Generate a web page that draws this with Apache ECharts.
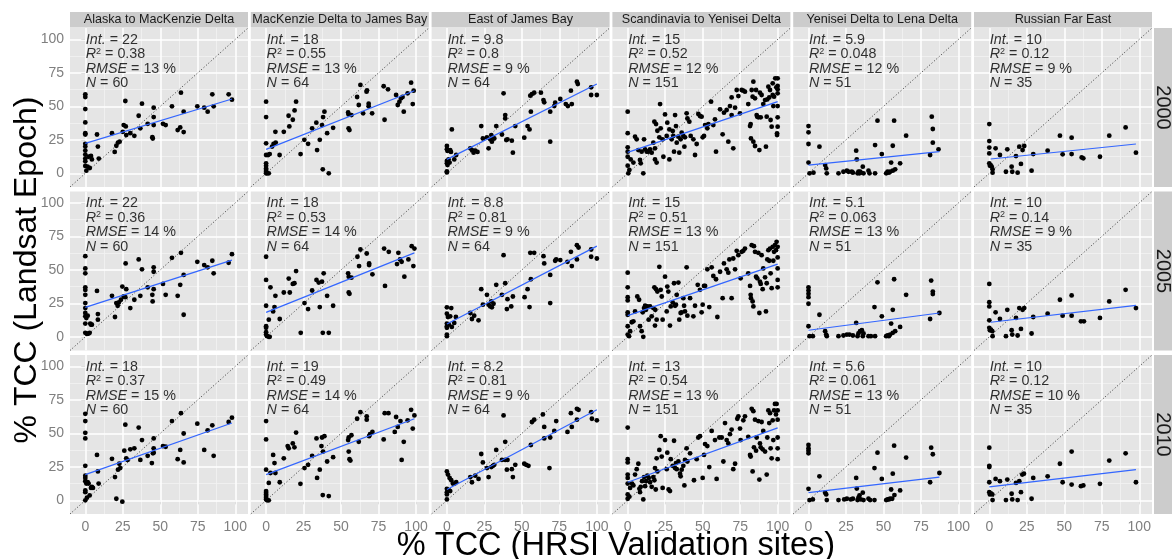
<!DOCTYPE html>
<html>
<head>
<meta charset="utf-8">
<script src="https://cdn.jsdelivr.net/npm/echarts@6.0.0/dist/echarts.min.js"></script>
<style>
  html, body { margin: 0; padding: 0; background: #fff; }
  #chart { width: 1172px; height: 559px; }
</style>
</head>
<body>
<div id="chart"></div>
<script>
// facet labels and ticks
const regions = ['Alaska to MacKenzie Delta', 'MacKenzie Delta to James Bay', 'East of James Bay',
  'Scandinavia to Yenisei Delta', 'Yenisei Delta to Lena Delta', 'Russian Far East'];
const years = ['2000', '2005', '2010'];
const ticks = [0, 25, 50, 75, 100];
const minorTicks = [12.5, 37.5, 62.5, 87.5];

// fit statistics, rows = years, cols = regions
const intercepts = [[22, 18, 9.8, 15, 5.9, 10], [22, 18, 8.8, 15, 5.1, 10], [18, 19, 8.2, 13, 5.6, 10]];
const rSquared = [['0.38', '0.55', '0.8', '0.52', '0.048', '0.12'], ['0.36', '0.53', '0.81', '0.51', '0.063', '0.14'], ['0.37', '0.49', '0.81', '0.54', '0.061', '0.12']];
const rmse = [[13, 13, 9, 12, 12, 9], [14, 14, 9, 13, 13, 9], [15, 14, 9, 13, 13, 10]];
const nSites = [[60, 64, 64, 151, 51, 35], [60, 64, 64, 151, 51, 35], [60, 64, 64, 151, 51, 35]];

// regression line ends [x1, y1, x2, y2]
const fit2000 = [[0, 22.4, 97.8, 55.5], [0, 17.9, 98.9, 61.7], [0, 10.4, 100, 66.7], [0, 15.7, 100, 53.5], [0, 6.2, 87.3, 16.2], [0.9, 10.7, 97.8, 21.9]];
const fit2005 = [[0, 22, 97.8, 57.3], [0, 18.3, 98.9, 62.7], [0, 9.6, 100, 67.7], [0, 15.8, 100, 54.3], [0, 4.9, 87.3, 17.8], [0.9, 10.9, 97.8, 23.5]];
const fit2010 = [[0, 19.2, 97.8, 57.7], [0, 19.2, 98.9, 60.9], [0, 8.1, 100, 67.6], [0, 13.5, 100, 54.1], [0, 5.7, 87.3, 17.4], [0, 10.1, 97.8, 22.9]];

// [HRSI, Landsat] pairs
const alaska2000 = [[0,59],[0,57],[0,48],[0,38],[0,30],[0,29],[0,22],[0,20],[0,17],[0,14],[0,11],[0,9],[0,5.5],
  [0.7,2],[1.5,5],[2.2,12.4],[3,4],[3.8,13],[4.4,10.4],[7.8,29],[8.4,20],[9,11],[17.8,30],[19.6,16],[20.7,20.6],[21.8,23],
  [22.9,23.6],[25,31],[25.6,36],[26.7,54],[27,35],[27.3,28.6],[30,30],[32.7,28],[35.6,43],[36.7,33.6],[37.8,52],[41.6,37],
  [44.7,27],[45,26],[45.6,49],[45.6,42],[45.6,36],[51.8,37],[53.6,36],[57.8,50],[61.6,32.3],[63.3,34.3],[63.8,60.2],[65.6,46],
  [65.6,30.8],[74.7,50],[79.3,49],[81.6,46],[84.7,59],[85.6,50],[95.6,59],[97.8,55]];
const mackenzie2000 = [[0,53.5],[0,42],[0,22.4],[0,13.7],[0,7.5],[0,5.7],[0,3.7],[0,2.5],[0,1.2],[0,0],[0.7,0],[1.8,0],
  [1.3,13.7],[2.4,14.4],[4,20],[5,22],[6.2,31],[6.4,23],[9,13.7],[11.8,31],[15,43],[15.5,35],[17.8,40],[19,47],[20,53.5],
  [23,14.4],[25.5,25],[28,22],[30.7,33.6],[33.5,37.8],[34,17.4],[35.8,25],[37.3,36],[37.8,3],[38,42],[38.9,46],[40.7,30],
  [41.8,0],[44.7,34],[54.7,45.5],[55,44],[55,33.6],[55.6,32.3],[56.9,43.5],[60.7,57],[61.8,51],[62.9,66],[64.7,44.8],[67,61],
  [67.3,62],[68.4,52],[68.4,50],[70.7,44.8],[78.4,65],[79,40],[81.3,62.7],[86.7,58.5],[87.8,51],[88.9,53.5],[90,56],[91,57],
  [91.8,46],[94.4,59.7],[96.7,67.7],[97.8,51.7],[98.4,61.7]];
const eastJB2000 = [[0,20.4],[0,18],[0.4,16.7],[0,9.2],[0,7.5],[0.4,6.2],[0,0.7],[0,1.5],[1.1,10.4],[1.8,8],[2.2,17.4],
  [2.7,16],[3.3,32.8],[4.9,10.4],[6.2,13.7],[15.6,18.7],[16.7,17.4],[17.8,15.4],[18.9,17],[20.4,16],[22.9,35.3],[24,26],
  [26.7,26.9],[27.8,18.7],[28.9,25.4],[29.6,28.6],[30,23.6],[30.7,27],[31.6,26],[32.9,35.3],[36.7,29],[37.8,59.7],[38.9,41],
  [38.9,43.5],[39.6,24.9],[40.4,25.4],[43.3,24.4],[44,15.4],[45.6,35.3],[51.6,26.6],[53.8,35.3],[55.1,32.8],[55.6,58],[56,46],
  [56.7,59.2],[58.2,60.2],[62.7,60.2],[64.4,54.7],[64.9,53],[68.9,46],[68.9,23.6],[71.6,50.2],[72.2,52.7],[75.6,55.5],
  [79.3,51.7],[80.7,50.2],[82.7,61.7],[83.3,51.7],[86.7,68.4],[87.3,66.7],[96.2,64.2],[96.2,58.5],[100,58.5]];
const scand2000 = [[0,46],[0,30],[0,19.4],[0,16.2],[0,12.4],[0,5.7],[0.4,0],[1.1,2.5],[2,10.4],[3.8,8],[4.9,27.4],[6,25.4],
  [7.1,17.4],[8.2,10],[8.7,7.5],[9.3,16.2],[10.4,0],[10.9,25.4],[11.6,17.9],[12.7,16.2],[13.8,16.2],[14.9,17.9],[16,15.4],
  [17.1,22.9],[17.8,38.6],[18.2,18.7],[18.2,10.4],[18.9,36.8],[19.3,8],[19.8,31.8],[21.1,26.9],[21.6,51.7],[22,33.6],[23.3,25.4],
  [23.8,12.4],[24.9,44],[26,27.9],[26.4,37.8],[27.8,32.8],[27.8,10.4],[29.3,25.4],[30,31.6],[30.4,27.9],[30.9,16.2],[31.6,43.5],
  [32.2,35.3],[32.7,22.9],[33.8,27.4],[34.4,15.4],[35.3,25.4],[36,30.3],[37.1,27.9],[37.8,19.9],[38.2,26.9],[39.3,44.8],
  [39.8,41],[41.1,38.6],[42,27.9],[43.8,25.4],[44.9,13.7],[46,21.9],[47.1,44.3],[48.2,42.8],[49.3,42.3],[50,26.9],[50.9,27.9],
  [51.6,36],[53.1,33.6],[53.8,36.8],[55.6,53.5],[57.1,36],[58.2,40.3],[58.9,16.2],[61.6,47.8],[63.3,29.1],[64.2,45.3],[66,47.3],
  [67.1,23.6],[68.2,50.2],[69.3,56.7],[69.3,43.5],[70.4,18.7],[71.6,49],[72.7,62.2],[73.8,57.7],[74.9,44.8],[76,62.2],
  [77.1,61.7],[78.2,61],[80.4,51.7],[81.6,35.3],[82,36.8],[82.2,26.1],[82.7,62.2],[83.3,57.2],[83.8,68.4],[83.8,23.6],[84.9,56],
  [84.9,20.4],[85.6,62.2],[86,43.5],[86.4,42.3],[87.1,41.8],[87.8,17.4],[88.2,60.2],[88.7,41.8],[89.3,58.5],[90.4,51.7],
  [91.6,54.7],[92.2,19.9],[92.7,42.3],[93.1,55.2],[93.8,64.7],[94.4,56.7],[94.9,62.2],[95.3,39.8],[96,34.8],[96.7,67.2],
  [96.7,58.5],[97.1,50.2],[97.6,57.2],[98.4,70.9],[99.1,64.2],[99.6,29.9],[99.6,28.6],[100,50.2],[100,41.8],[100,34.8],
  [100,65.2],[100,62.7],[100,70.9],[100,59.7]];
const yenisei2000 = [[0,35.3],[0,30.6],[0,21.9],[0,8],[0.7,0],[3.3,0.5],[7.3,19.9],[11.1,6.2],[11.8,3.7],[12.2,0],[20,0],
  [23.3,1.2],[25.6,2],[26.7,1.2],[28.9,1.2],[29.6,0.5],[31.8,16.9],[32.2,10.4],[32.7,0],[33.3,1.2],[34,0],[34.4,1.2],[34.9,0.5],
  [36.2,5],[36.7,0],[40,2],[40.7,0],[44.4,0],[44.4,21.1],[46,39.3],[48.9,14.4],[51.8,0],[52.7,1.2],[53.6,0.5],[54.4,1.2],
  [55.1,8],[56.2,2],[56.2,20.6],[57.1,39.3],[57.8,3],[61.1,7.5],[65.1,28.1],[81.1,13.7],[82.2,42.3],[82.9,33.1],[82.9,22.9],
  [86.7,17.9]];
const rfe2000 = [[0,36.8],[0,24.1],[0,19.2],[0,14.9],[0,7.5],[0.4,5.7],[0.9,6.2],[1.6,5],[2.2,0.5],[2.2,3],[4.2,18.7],
  [7.1,13.7],[11.1,1.2],[12,17.9],[14.9,5],[15.3,1.2],[17.8,12.9],[18.9,0.5],[20,19.9],[21.1,7],[22.2,17.4],[23.3,20.4],
  [28.2,2],[29.3,14.4],[38.9,16.9],[47.1,28.1],[48.9,14.2],[54.9,26.6],[54.9,14.4],[61.6,11.9],[62.7,11.2],[73.8,12.4],
  [80,28.1],[90.9,34.3],[97.8,15.4]];

const alaska2005 = [[0,60.2],[0,51.1],[0,47.4],[0,37],[0,35],[0,31.4],[0,25.2],[0,21.5],[0,17.8],[0,15.3],[0,9.9],[0,3],
  [0.7,14],[1.1,2.2],[1.6,15.8],[2.2,2.5],[2.9,3],[3.3,9.9],[3.8,9.1],[4.4,9.1],[7.8,34.3],[8.4,17],[8.4,12.8],[17.8,30.6],
  [19.8,14.8],[20.7,25.2],[21.6,23.2],[22.4,25.7],[23.8,27.7],[24.7,37.5],[25.6,30.1],[26.7,29.6],[26.9,54.8],[27.3,35.6],
  [30,21.5],[32.7,27.7],[35.6,57.8],[36.7,30.6],[37.8,50.4],[41.6,37],[44.7,31.4],[44.9,26.4],[45.6,51.9],[45.6,48.6],
  [45.6,35.6],[51.8,39.5],[53.6,31.4],[57.8,59],[61.6,30.6],[63.3,38.8],[63.8,62.7],[65.6,16.5],[65.6,46.2],[74.7,56],
  [79.3,53.6],[81.6,51.9],[84.7,56.8],[85.6,47.4],[95.6,55.3],[97.8,61.7]];
const mackenzie2005 = [[0,59.8],[0,42.5],[0,23.2],[0,7.9],[0,6.7],[0,3.5],[0,1.7],[0.7,0.5],[1.8,0],[2.4,0],[1.8,12.8],
  [2.9,37],[4.7,19],[5.6,22.2],[6.2,30.6],[9.1,13.3],[11.8,33.1],[15.1,43.5],[15.8,33.1],[17.8,39.5],[18.9,40],[20,49.1],
  [23.1,3],[25.6,25.2],[28,20.7],[30.7,34.6],[33.6,42.5],[35.1,40.5],[35.8,22.2],[37.3,41.2],[37.8,3],[38.4,47.4],[40.7,30.6],
  [41.8,3],[44.7,23.2],[54.7,47.4],[55.1,44.9],[55.1,33.1],[55.6,32.1],[56.9,44.2],[60.9,59.8],[62,52.8],[62.9,65.2],
  [67.1,62.2],[68.7,54.8],[68.7,53.6],[70.9,46.7],[78.7,65.9],[79.3,38],[81.8,63.5],[87.3,54.3],[88.2,62.7],[89.3,57.8],
  [90.4,56],[92.2,44.9],[94.9,57.8],[97.1,67.7],[98.2,52.8],[98.9,65.9]];
const eastJB2005 = [[0,22],[0,17.3],[0,9.9],[0,7.9],[0,6.7],[0,1.7],[0,0.5],[0.7,14.8],[1.3,9.1],[2.2,15.3],[2.9,21.5],
  [3.3,7.4],[4.9,10.4],[6,14.8],[15.6,17.8],[16.7,13.3],[18.2,15.8],[21.1,12.3],[22.9,35.6],[24,24],[26.7,31.4],[27.8,24],
  [28.9,22.7],[29.6,26.4],[30,22],[31.1,24.7],[32.9,38.8],[36.7,31.4],[37.8,61],[38.9,40],[40,20.7],[40.4,28.1],[42.9,22.7],
  [44,30.1],[51.8,29.6],[53.8,35.6],[55.1,22.2],[55.6,62.7],[56,43],[58.2,62.7],[64.4,60.2],[64.9,54.8],[68.9,46.2],
  [68.9,25.2],[72.2,56.8],[72.9,57.8],[75.6,57.3],[80.4,56],[82.7,63.5],[83.3,52.8],[86.7,68.4],[87.8,66.7],[86.7,57.8],
  [96.2,65.2],[96.2,59.8],[100,58.5]];
const scand2005 = [[0,47.9],[0,37],[0,29.6],[0,27.2],[0,18.3],[0,16.5],[0,7.9],[0,1.7],[0.9,0.5],[1.6,4.2],[2.7,10.9],
  [3.8,11.6],[4.9,19],[6.4,30.1],[7.6,27.7],[8.2,7.9],[9.3,4.2],[10,18.3],[10.4,0],[10.9,21.5],[11.6,23.2],[12.2,20.2],
  [13.1,22.7],[14,12.8],[14.9,22.7],[16,15.3],[17.1,21.5],[17.8,37],[18.2,8.4],[18.4,20.2],[18.9,35.6],[19.3,12.8],[19.8,33.8],
  [21.1,52.3],[22,35.1],[22.7,30.1],[23.3,12.8],[24.9,44.9],[26,19],[26.4,37.5],[27.1,33.8],[28.2,8.4],[28.7,22.7],[30,25.7],
  [30.9,40],[31.6,23.2],[32.2,24],[32.7,31.4],[33.8,40.5],[34.4,12.8],[35.3,17.8],[36,18.3],[37.1,28.9],[37.6,23.2],[38.2,19],
  [39.3,51.9],[39.8,15.8],[41.6,28.9],[43.8,15.3],[44.9,23.2],[46.7,38.8],[48.2,35.1],[49.3,18.3],[50,24],[50.9,38],[51.6,38],
  [53.1,50.4],[54.4,22.2],[56,51.9],[57.1,45.4],[58.9,43],[59.8,14.8],[61.6,48.6],[63.3,28.9],[64.2,54.8],[66,50.4],[67.1,47.9],
  [67.8,57.8],[69.3,28.9],[70.4,58.5],[71.6,50.4],[72.7,64.2],[73.8,61],[75.3,43.7],[76,63.5],[77.1,64.2],[78.2,65.9],
  [80.4,47.4],[81.6,38],[82,31.4],[82.2,28.9],[82.7,68.4],[83.3,26.4],[83.8,22.7],[84.2,67.7],[84.9,63.5],[85.6,44.9],
  [86.4,43.7],[87.1,62.7],[87.8,17.8],[88.2,41.2],[88.7,39.5],[89.3,61],[90,35.6],[90.4,51.1],[91.6,44.4],[92.2,19],[92.7,40],
  [93.1,57.8],[93.8,64.7],[94.4,56.8],[94.9,65.9],[95.3,47.4],[96,36.3],[96.7,67.2],[97.1,56.8],[97.6,63.5],[98.2,68.4],
  [98.9,64.7],[99.3,70.9],[100,67.2],[100,42.5],[100,37],[100,51.1],[100,59.3]];
const yenisei2005 = [[0,37],[0,34.6],[0,32.1],[0,29.6],[0,24.7],[0,7.9],[0.7,0.5],[2.9,0.5],[7.3,16.5],[11.1,4.2],[11.8,1.7],
  [12.2,0.5],[20,0.5],[23.3,1],[25.6,1.7],[27.3,1.7],[29.6,1],[31.8,10.4],[32.7,0.5],[33.3,2.5],[34.4,4.2],[35.6,4.9],[36.2,0.5],
  [36.7,2.5],[40,0.5],[41.6,0.5],[44.4,0.5],[44,22.2],[46,40.7],[48.9,15.3],[51.8,0.5],[52.7,1],[53.6,0.5],[54.4,1.7],[55.1,9.9],
  [56.2,3],[56.2,20.2],[57.1,43],[57.8,4.2],[61.1,7.4],[65.1,31.4],[81.1,13.3],[81.8,42],[82.9,33.8],[82.9,31.9],[87.3,17.8]];
const rfe2005 = [[0,39.5],[0,25.9],[0,22.7],[0,12.3],[0,6.7],[0.4,4.9],[1.1,5.4],[2,4.2],[2.2,0.5],[4.2,18.3],[7.1,13.3],
  [11.1,0.5],[12,20.2],[14.9,4.9],[15.3,1.7],[17.8,14.1],[18.9,1],[20,21.5],[21.1,5.9],[22.2,20.2],[23.3,21.5],[28.2,2.5],
  [29.3,14.8],[38.9,17.3],[47.1,27.7],[48.9,15.8],[54.9,30.9],[54.9,15.8],[61.1,11.6],[63.1,11.6],[73.8,14.1],[80,26.4],
  [90.9,35.1],[97.8,21.5]];

const alaska2010 = [[0,64.6],[0,59.2],[0,50.4],[0,46.2],[0,25.8],[0,18.4],[0,16.7],[0,14.3],[0,7.4],[0,6.1],[0,0],
  [0.7,12.5],[1.1,2],[1.6,13.5],[2.2,12.5],[2.9,3.7],[3.8,9.3],[4.4,10.1],[5.1,9.3],[7.8,33.9],[8.4,21.6],[8.9,12.5],[17.8,31],
  [19.8,17.4],[20.7,1.2],[21.8,22.9],[22.7,27.3],[23.3,24.1],[24.7,-1],[26,37.1],[26.7,56.5],[27.3,31.4],[28.2,30.2],[30,38.1],
  [32.7,38.8],[35.6,54.3],[36.7,30.2],[37.8,45],[41.6,33.2],[44.4,27.8],[45.1,35.1],[45.6,46.2],[45.6,35.6],[45.6,38.8],
  [51.8,40.5],[53.6,40],[57.8,59.2],[61.6,30.7],[63.3,37.6],[63.8,65.1],[65.6,28.3],[65.6,49.9],[74.7,57.2],[79.3,37.6],
  [81.6,52.3],[84.7,56],[85.6,33.2],[95.6,58.5],[97.8,61.7]];
const mackenzie2010 = [[0,59.2],[0,45.5],[0,22.9],[0,6.9],[0,5.7],[0,4.4],[0,3.2],[0,2],[0,0.7],[0.7,0],[1.8,0],[1.8,13],
  [2.9,20.4],[4.7,33.9],[5.6,27.8],[6.2,20.4],[9.1,13.5],[11.8,31.4],[14.4,40.5],[15.1,38.8],[17.8,42.5],[18.9,39.6],[20,50.6],
  [22.9,12.3],[25.6,24.1],[28,26.5],[30.7,33.2],[33.6,46.2],[34,16.7],[35.8,22.9],[36.9,40.5],[37.3,46.9],[37.8,3.9],[38,36.4],
  [38.9,47.9],[40.7,29],[41.8,3.2],[44.7,32.2],[54.7,45],[55.1,46.9],[55.1,36.4],[55.6,30.7],[56.2,29.7],[56.9,48.6],
  [60.7,60.9],[61.8,43.7],[62.9,65.8],[67.1,62.7],[67.1,60.2],[68.7,47.9],[69.3,49.4],[70.9,51.1],[78.4,45.5],[79.1,65.1],
  [81.6,65.1],[86.7,62.2],[85.8,51.1],[87.8,54.8],[89.6,59.2],[90.4,30.2],[91.8,43.7],[94.4,59.7],[96.7,67.6],[97.8,53.6],
  [98.9,63.4]];
const eastJB2010 = [[0,21.6],[0,8.6],[0,6.1],[0,4.4],[0,0.7],[0.7,19.2],[1.3,7.6],[1.8,16.7],[2.2,6.9],[2.9,15],[4,12.5],
  [5.1,12.5],[6.2,13.5],[15.6,17.4],[16.7,13.5],[18.9,18.4],[21.1,16],[22.9,34.6],[24,28.3],[26.7,24.1],[27.8,17.4],[29.6,24.8],
  [30.7,25.8],[31.6,26.5],[32.9,37.6],[36.7,30.2],[37.8,63.4],[38.9,43.7],[38.9,30.2],[40,22.9],[40.4,30.2],[43.3,23.3],
  [44,17.4],[45.6,26.5],[51.6,27.3],[52.9,26.5],[54.4,25.8],[56,41.3],[56.7,58.5],[58.2,60.2],[64,64.1],[64.9,54.8],[64.9,46.2],
  [68.4,24.1],[68.9,46.9],[71.6,51.8],[72.9,59.2],[80.4,51.1],[82.7,65.1],[83.3,54.8],[86.7,68.3],[87.8,67.6],[86.7,60.2],
  [96.2,65.8],[96.7,60.9],[100,59.7]];
const scand2010 = [[0,54.3],[0,30.7],[0,28.3],[0,19.2],[0,16.7],[0,12.5],[0,4.4],[0,1.2],[1.1,2.7],[1.6,9.3],[2.9,12.5],
  [3.8,11.1],[4.9,19.2],[6,23.3],[7.1,27.3],[7.8,8.6],[8.2,6.1],[8.7,10.1],[9.6,14.3],[10.4,0.7],[10.9,17.4],[11.6,10.6],
  [12.2,14.3],[13.1,18.4],[14,16.7],[14.9,13.5],[16,10.1],[17.1,17.4],[17.8,15],[18.2,24.1],[18.7,8.1],[19.3,31.4],[19.8,21.6],
  [21.1,37.6],[22,47.9],[22.7,32.7],[23.3,9.3],[24.9,45],[26,23.3],[26.4,35.6],[27.3,8.1],[28.2,6.9],[28.7,30.7],[30,25.8],
  [30.9,44.5],[31.6,24.1],[32.2,27.8],[32.7,23.3],[33.8,29],[34.9,19.9],[35.3,17.9],[36,22.9],[37.1,25.8],[37.8,11.1],
  [38.2,30.2],[39.3,38.8],[39.8,29],[41.6,35.1],[44.2,15],[46,30.7],[47.1,46.9],[48.2,47.9],[50,16.7],[50.9,33.9],[51.6,42],
  [53.1,40.5],[54.4,24.8],[56,51.8],[58.2,45],[59.3,16],[61.1,46.9],[62.7,46.9],[63.8,29],[64.9,57.7],[66,45],[67.1,42.5],
  [68.2,49.4],[69.3,52.8],[70.4,23.3],[71.6,27.3],[73.1,60.9],[73.8,62.7],[74.9,53.6],[75.3,45],[77.1,59.7],[78.2,62.7],
  [80.4,47.4],[81.6,33.9],[82,32.7],[82.7,68.3],[83.3,21.6],[83.8,66.6],[84.2,39.6],[84.9,60.2],[85.6,37.1],[86,46.9],
  [87.1,59.2],[87.8,15.5],[88.2,42.5],[88.7,39.6],[89.3,58.5],[90,38.1],[90.4,51.8],[91.6,36.4],[92.7,19.2],[93.1,46.9],
  [93.8,67.1],[94.4,57.7],[94.9,65.1],[95.3,38.8],[96,31.4],[96.7,59.7],[97.1,45],[97.6,67.1],[98.2,72],[98.9,64.1],[99.3,72],
  [100,67.1],[100,46.9],[100,38.8],[100,30.7],[100,60.2]];
const yenisei2010 = [[0,41.3],[0,38.8],[0,37.1],[0,35.1],[0,8.6],[0.7,0.2],[2.9,0.7],[7.3,17.9],[11.1,5.7],[11.8,4.4],
  [12.2,0.2],[20,0.2],[23.8,0.7],[25.6,1.2],[28.2,0.7],[29.6,1.2],[31.8,16.7],[32.2,8.8],[32.7,0.2],[33.3,2],[34,3.7],[34.9,0.7],
  [36.2,5.7],[36.7,0.2],[40,1.2],[41.1,0.2],[44,24.1],[44,0.2],[46,35.6],[48.9,16],[51.8,0.2],[52.7,0.7],[53.6,0.7],[54.4,1.2],
  [55.1,8.1],[55.8,1.2],[56.2,19.9],[57.1,40.8],[57.3,3.9],[61.1,7.4],[65.1,31.9],[81.1,13.5],[81.8,39.3],[82.9,34.4],
  [87.3,20.4]];
const rfe2010 = [[0,39.3],[0,25.8],[0,24.8],[0,13.5],[0,6.1],[0.4,4.4],[1.1,5.2],[2,4.4],[2.2,0.2],[4.2,16],[7.1,14.3],
  [11.1,0.2],[12,15.5],[14.9,4.9],[15.3,0.7],[17.8,13],[18.9,0.2],[20,14.3],[21.1,6.1],[22,19.2],[23.1,19.9],[28.2,1.2],
  [29.3,16.7],[38.9,17.9],[47.1,27.3],[48.9,13.5],[54.9,36.4],[54.9,11.8],[61.1,10.6],[62.7,11.1],[73.8,12.3],[80,29.7],
  [90.9,35.1],[97.8,13.5]];

const points = [
  [alaska2000, mackenzie2000, eastJB2000, scand2000, yenisei2000, rfe2000],
  [alaska2005, mackenzie2005, eastJB2005, scand2005, yenisei2005, rfe2005],
  [alaska2010, mackenzie2010, eastJB2010, scand2010, yenisei2010, rfe2010]
];
const fits = [fit2000, fit2005, fit2010];

// layout
const AX_MIN = -10.2, AX_MAX = 108.5;
const colLeft = [70, 250.8, 431.6, 612.4, 793.2, 974];
const rowTop = [28, 191.5, 355];
const PW = 178, PH = 159;
const FONT = '"Liberation Sans", Arial, Helvetica, sans-serif';

const chart = echarts.init(document.getElementById('chart'));

const gridLines = [];
minorTicks.forEach(v => {
  gridLines.push({ coords: [[v, AX_MIN], [v, AX_MAX]], lineStyle: { color: '#F2F2F2', width: 0.8, opacity: 1 } });
  gridLines.push({ coords: [[AX_MIN, v], [AX_MAX, v]], lineStyle: { color: '#F2F2F2', width: 0.8, opacity: 1 } });
});
ticks.forEach(v => {
  gridLines.push({ coords: [[v, AX_MIN], [v, AX_MAX]], lineStyle: { color: '#FFFFFF', width: 1.5, opacity: 1 } });
  gridLines.push({ coords: [[AX_MIN, v], [AX_MAX, v]], lineStyle: { color: '#FFFFFF', width: 1.5, opacity: 1 } });
});

const grid = [], xAxis = [], yAxis = [], series = [], graphic = [];

years.forEach((yr, r) => {
  regions.forEach((reg, c) => {
    const i = r * 6 + c;
    grid.push({
      left: colLeft[c], top: rowTop[r], width: PW, height: PH,
      show: true, backgroundColor: '#E5E5E5', borderWidth: 0,
      containLabel: false, outerBoundsMode: 'none'
    });
    xAxis.push({
      type: 'value', gridIndex: i, min: AX_MIN, max: AX_MAX,
      axisLine: { show: false }, splitLine: { show: false },
      axisTick: { show: r === 2, customValues: ticks, length: 4, lineStyle: { color: '#7F7F7F' } },
      axisLabel: { show: r === 2, customValues: ticks, color: '#7F7F7F', fontSize: 14, fontFamily: FONT, margin: 6 }
    });
    yAxis.push({
      type: 'value', gridIndex: i, min: AX_MIN, max: AX_MAX,
      axisLine: { show: false }, splitLine: { show: false },
      axisTick: { show: c === 0, customValues: ticks, length: 4, lineStyle: { color: '#7F7F7F' } },
      axisLabel: { show: c === 0, customValues: ticks, color: '#7F7F7F', fontSize: 14, fontFamily: FONT, margin: 6 }
    });

    series.push({
      type: 'lines', coordinateSystem: 'cartesian2d', xAxisIndex: i, yAxisIndex: i,
      data: gridLines, silent: true, z: 1, lineStyle: { opacity: 1 }
    });
    series.push({
      type: 'line', xAxisIndex: i, yAxisIndex: i, z: 2, silent: true,
      data: [[AX_MIN, AX_MIN], [AX_MAX, AX_MAX]], symbol: 'none',
      lineStyle: { color: '#222', width: 0.9, type: [1, 2.2] }
    });
    series.push({
      type: 'scatter', xAxisIndex: i, yAxisIndex: i, z: 3,
      data: points[r][c], symbolSize: 4.8, itemStyle: { color: '#000', opacity: 1 }
    });
    const f = fits[r][c];
    series.push({
      type: 'line', xAxisIndex: i, yAxisIndex: i, z: 4, silent: true,
      data: [[f[0], f[1]], [f[2], f[3]]], symbol: 'none',
      lineStyle: { color: '#3366FF', width: 1.2 }
    });
    const txt = '{i|Int.} = ' + intercepts[r][c] +
      '\n{i|R}{sup|2} = ' + rSquared[r][c] +
      '\n{i|RMSE} = ' + rmse[r][c] + ' %' +
      '\n{i|N} = ' + nSites[r][c];
    series.push({
      type: 'scatter', xAxisIndex: i, yAxisIndex: i, z: 5, silent: true,
      data: [[0, 100]], symbolSize: 1, itemStyle: { color: 'rgba(0,0,0,0)' },
      label: {
        show: true, position: 'right', distance: 0, verticalAlign: 'top', align: 'left',
        offset: [0, -7], formatter: () => txt,
        color: '#000', fontSize: 14.3, fontFamily: FONT, lineHeight: 14.5,
        rich: {
          i: { fontStyle: 'italic', fontSize: 14.3, fontFamily: FONT, color: '#000', lineHeight: 14.5 },
          sup: { fontSize: 9, fontFamily: FONT, color: '#000', verticalAlign: 'top', lineHeight: 8 }
        }
      }
    });
  });

  // right strip
  graphic.push({ type: 'rect', shape: { x: 1154, y: rowTop[r], width: 30, height: PH }, style: { fill: '#CCCCCC' } });
  graphic.push({
    type: 'text', x: 1163, y: rowTop[r] + PH / 2, rotation: -Math.PI / 2,
    style: { text: yr, fontSize: 20, fontFamily: FONT, fill: '#1A1A1A', align: 'center', verticalAlign: 'middle' }
  });
});

regions.forEach((reg, c) => {
  graphic.push({ type: 'rect', shape: { x: colLeft[c], y: 12, width: PW, height: 15.5 }, style: { fill: '#CCCCCC' } });
  graphic.push({
    type: 'text', x: colLeft[c] + PW / 2, y: 20,
    style: { text: reg, fontSize: 12.6, fontFamily: FONT, fill: '#1A1A1A', align: 'center', verticalAlign: 'middle' }
  });
});

graphic.push({
  type: 'text', x: 616, y: 546,
  style: { text: '% TCC (HRSI Validation sites)', fontSize: 32.5, fontFamily: FONT, fill: '#000', align: 'center', verticalAlign: 'middle' }
});
graphic.push({
  type: 'text', x: 27, y: 270, rotation: Math.PI / 2,
  style: { text: '% TCC (Landsat Epoch)', fontSize: 32, fontFamily: FONT, fill: '#000', align: 'center', verticalAlign: 'middle' }
});

chart.setOption({
  animation: false,
  backgroundColor: '#FFFFFF',
  grid, xAxis, yAxis, series, graphic
});
</script>
</body>
</html>
